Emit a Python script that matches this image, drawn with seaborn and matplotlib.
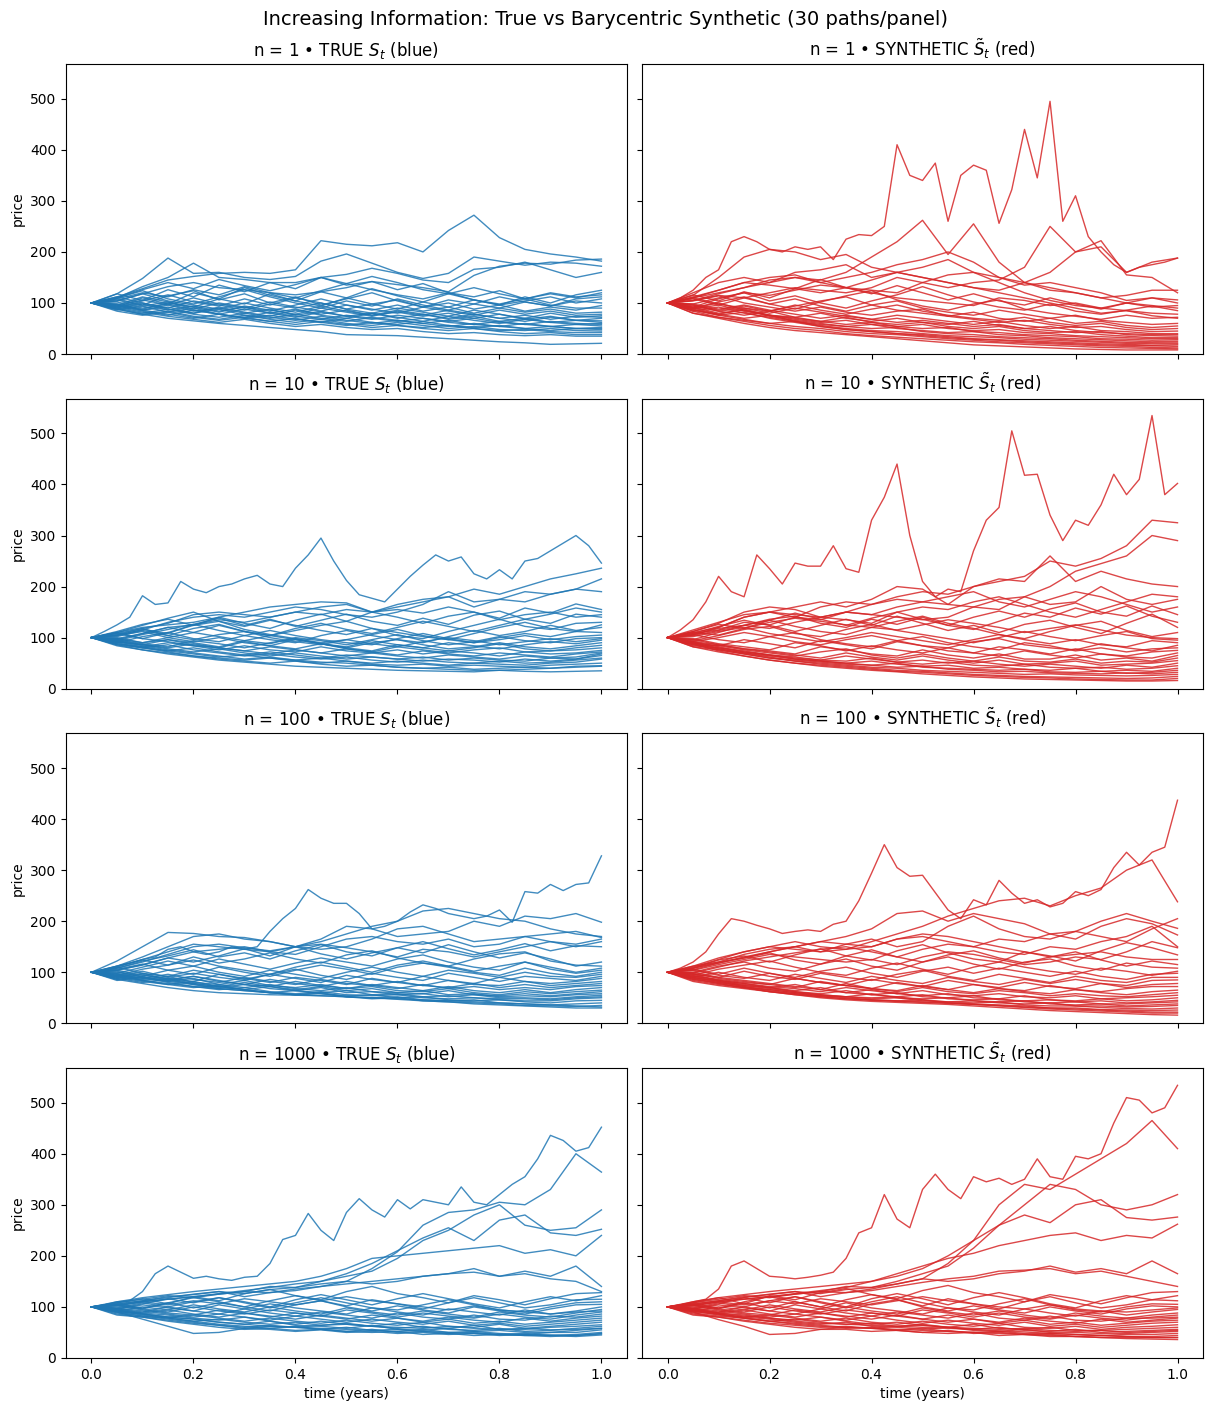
import numpy as np
import pandas as pd
import matplotlib
matplotlib.use("Agg")
import matplotlib.pyplot as plt
import seaborn as sns

# information levels (rows)
N_LEVELS = [1, 10, 100, 1000]

# each path: prices on an even time grid over [0, 1]
# (21 points for ordinary paths, 41 points for the big outliers)

TRUE_N1 = [
    [100,112,128,145,152,158,160,158,165,222,215,212,218,200,242,272,228,205,196,190,182],
    [100,118,148,188,158,160,150,146,152,182,196,178,160,148,158,190,182,174,180,178,172],
    [100,110,132,150,178,150,146,140,140,150,156,168,158,145,140,166,170,180,165,150,160],
    [100,104,118,132,140,130,126,120,116,122,130,142,136,130,122,154,172,178,176,184,186],
    [100,118,105,126,112,135,122,140,128,150,135,142,126,138,120,112,124,108,118,110,120],
    [100,92,110,98,120,108,130,115,104,122,110,128,114,102,118,106,96,112,100,116,125],
    [100,108,96,114,124,106,118,100,112,96,108,120,104,92,106,98,112,102,94,108,112],
    [100,96,112,102,92,108,98,118,104,94,110,98,88,102,92,106,96,104,112,100,108],
    [100,110,124,108,98,112,126,112,100,90,104,94,108,96,86,98,90,102,94,104,100],
    [100,90,104,116,102,94,108,96,110,100,88,98,106,92,100,88,96,84,92,86,95],
    [100,106,94,102,88,100,92,84,96,108,96,86,96,84,92,80,90,82,88,80,82],
    [100,94,106,96,110,98,90,102,92,84,96,88,80,92,84,76,86,78,84,76,78],
    [100,112,100,90,104,96,86,98,90,100,88,80,90,82,74,86,78,70,80,72,75],
    [100,98,88,100,92,82,94,86,78,90,82,74,84,76,86,78,70,76,68,74,72],
    [100,88,98,86,94,84,92,80,88,78,86,76,82,74,80,70,78,68,74,66,70],
    [100,104,118,104,96,88,100,90,82,94,84,76,86,78,70,78,70,64,72,66,65],
    [100,96,86,96,84,90,80,88,76,84,74,80,70,78,68,74,64,70,62,66,62],
    [100,92,100,88,80,92,82,74,86,76,70,80,72,64,74,66,60,68,62,58,60],
    [100,102,90,98,86,78,88,80,72,82,74,68,76,70,64,70,62,58,64,60,58],
    [100,86,94,82,90,78,72,82,74,68,76,70,64,70,62,58,64,58,54,58,55],
    [100,98,86,92,80,88,76,70,78,70,64,72,66,60,66,58,54,60,54,50,52],
    [100,90,80,88,78,72,80,72,66,74,66,60,66,60,54,60,54,50,54,50,50],
    [100,94,84,76,86,78,70,76,68,62,70,62,58,64,56,52,56,50,46,50,48],
    [100,88,78,84,74,68,76,68,62,68,60,56,62,56,50,54,48,46,50,46,45],
    [100,96,86,78,70,78,70,64,70,62,56,62,56,52,56,50,46,48,44,42,42],
    [100,84,76,82,72,66,72,64,58,64,58,52,56,50,46,50,44,40,42,38,38],
    [100,92,82,74,68,62,68,60,54,58,52,48,50,44,40,42,38,36,38,35,35],
    [100,88,78,70,65,60,56,52,48,44,38,37,36,33,30,27,24,22,19,20,21],
    [100,110,126,140,128,146,134,124,136,150,138,152,140,126,118,130,118,108,120,112,116],
    [100,108,120,112,126,116,132,120,110,124,138,126,116,108,120,106,98,108,96,90,90],
]

SYN_N1 = [
    [100,110,125,150,165,220,230,220,205,200,210,205,210,185,225,234,232,250,410,350,
     340,374,260,350,370,360,256,322,440,345,495,260,310,230,200,175,160,170,175,180,188],
    [100,115,150,190,205,200,185,195,170,160,150,140,130,120,110,100,90,80,85,75,70],
    [100,110,120,130,140,150,145,160,190,220,262,195,255,180,140,125,120,110,100,95,90],
    [100,105,115,110,120,130,125,120,130,150,140,130,140,145,170,250,200,222,155,150,120],
    [100,120,140,150,140,160,165,175,150,160,170,185,160,150,140,160,200,210,160,180,188],
    [100,110,125,140,150,155,140,150,160,175,185,200,180,150,135,140,130,120,105,110,106],
    [100,116,104,122,110,128,146,130,118,134,120,106,118,104,96,110,98,88,100,92,95],
    [100,92,108,120,104,114,100,90,104,116,132,116,102,92,86,98,84,78,86,94,85],
    [100,108,96,110,98,88,102,114,124,106,94,86,98,106,88,80,74,68,76,70,72],
    [100,90,102,112,98,108,94,84,96,104,90,82,76,86,78,70,76,66,62,58,60],
    [100,110,98,90,84,94,104,112,96,86,80,74,82,70,64,70,60,64,56,52,55],
    [100,96,86,94,84,96,86,78,88,96,84,76,70,66,72,62,56,60,52,48,50],
    [100,104,114,100,92,84,92,82,76,84,88,74,68,62,66,58,52,54,48,44,45],
    [100,94,84,90,80,90,82,74,68,76,70,64,58,64,56,50,54,46,44,40,40],
    [100,88,96,84,76,72,80,70,64,70,62,58,64,56,50,54,46,42,40,38,38],
    [100,98,88,96,86,78,70,76,68,62,66,60,54,58,50,46,42,44,38,36,35],
    [100,90,100,86,76,70,64,72,62,58,62,54,50,54,46,42,44,38,35,32,32],
    [100,86,78,88,76,68,62,66,58,54,58,50,46,48,42,40,36,34,32,30,30],
    [100,96,84,76,84,72,64,58,62,54,50,52,44,42,38,36,34,30,29,27,28],
    [100,92,80,86,74,66,60,54,58,50,46,42,44,38,36,32,30,28,26,24,25],
    [100,84,92,80,72,64,58,54,50,52,44,40,38,34,32,30,27,25,23,22,22],
    [100,90,78,70,76,64,56,50,46,44,40,36,34,32,29,27,25,23,21,20,20],
    [100,86,76,82,70,62,54,48,44,40,38,34,30,28,26,24,22,20,19,17,18],
    [100,80,72,66,60,64,54,48,44,40,36,32,29,27,24,22,20,18,17,16,15],
    [100,88,76,68,60,54,50,44,40,38,34,30,27,24,22,20,18,16,15,13,12],
    [100,84,72,64,56,50,46,40,36,33,30,27,24,22,19,17,15,13,12,11,10],
    [100,80,70,60,52,46,42,38,34,30,26,22,18,16,14,12,10,9,8,8,8],
    [100,112,125,140,135,128,120,130,145,160,150,140,130,125,140,130,120,110,115,125,125],
    [100,105,118,130,145,150,140,130,125,120,140,155,160,140,120,105,95,90,100,110,100],
    [100,98,110,120,115,125,135,130,120,110,105,100,95,110,105,95,100,90,85,80,78],
]

TRUE_N10 = [
    [100,112,125,140,182,165,168,210,195,188,200,205,215,222,205,200,236,262,295,250,
     212,184,177,170,195,220,242,262,250,258,225,215,233,215,250,255,270,285,300,280,246],
    [100,110,120,125,130,140,150,160,165,170,168,150,160,170,180,195,185,200,215,225,236],
    [100,105,115,130,140,145,140,150,160,155,145,140,150,165,190,170,175,190,185,195,215],
    [100,98,108,120,125,135,130,140,150,145,155,150,165,175,180,160,175,170,185,195,190],
    [100,112,126,136,124,140,128,118,134,146,132,150,140,128,142,150,138,158,148,166,155],
    [100,104,116,108,126,138,124,136,122,134,146,132,124,138,126,144,152,136,146,158,150],
    [100,96,108,120,110,124,112,104,118,128,116,108,120,132,122,112,124,136,128,146,140],
    [100,110,124,138,150,132,122,134,124,114,106,118,104,98,112,124,136,122,116,128,130],
    [100,102,114,104,118,126,112,104,114,124,132,118,110,102,96,108,120,130,118,112,125],
    [100,94,106,116,126,114,104,96,90,104,114,104,96,90,102,114,104,112,124,114,120],
    [100,108,98,110,124,132,116,106,98,90,96,106,116,104,96,90,100,108,102,112,110],
    [100,90,102,110,98,92,104,114,104,96,90,86,98,108,98,90,96,104,96,102,105],
    [100,98,90,100,110,102,94,88,100,94,86,96,106,94,86,92,102,94,90,98,100],
    [100,106,118,104,96,106,112,100,92,86,96,88,82,92,100,94,86,92,98,92,98],
    [100,92,86,96,90,82,94,104,96,88,82,94,86,80,90,84,78,86,92,88,95],
    [100,104,112,100,92,100,90,84,96,88,80,90,96,86,78,82,90,82,78,84,90],
    [100,96,88,82,94,88,80,90,98,88,80,74,86,80,74,80,88,78,74,80,85],
    [100,110,98,92,84,80,92,84,78,88,78,72,82,76,70,76,80,72,74,76,80],
    [100,88,82,90,84,76,84,76,72,82,74,70,76,68,74,70,64,72,68,70,75],
    [100,100,90,96,86,80,74,82,76,70,78,72,66,74,68,64,70,66,62,68,72],
    [100,92,86,80,88,80,74,68,76,70,64,70,64,60,66,62,58,64,60,62,70],
    [100,86,80,74,80,72,66,72,66,60,66,62,58,62,56,60,56,54,60,58,68],
    [100,96,86,78,72,78,70,64,70,64,58,62,58,54,58,56,52,58,54,58,65],
    [100,88,80,86,76,70,64,68,62,58,62,56,52,56,52,50,54,50,52,56,60],
    [100,92,82,74,68,62,66,60,56,60,54,50,54,50,46,50,48,46,50,52,58],
    [100,84,76,70,64,60,56,60,54,50,54,48,46,48,44,46,44,42,46,48,50],
    [100,90,80,72,64,58,54,50,54,48,44,46,42,40,42,38,40,42,40,44,45],
    [100,86,76,68,62,56,52,48,44,42,40,38,36,35,34,33,36,34,33,34,35],
    [100,94,84,76,70,64,58,62,56,52,50,46,42,40,38,36,36,38,40,42,44],
    [100,108,118,128,145,150,145,140,150,160,165,150,155,148,160,150,135,145,150,140,145],
]

SYN_N10 = [
    [100,115,135,170,220,190,180,262,235,205,246,240,240,280,235,228,330,375,440,300,
     210,180,195,190,270,330,355,505,418,420,340,290,330,320,360,420,380,410,535,380,402],
    [100,110,120,140,150,140,160,170,165,180,190,185,200,210,220,250,240,255,280,330,325],
    [100,108,115,130,125,140,135,150,145,160,170,165,160,175,180,200,230,245,260,300,290],
    [100,115,130,145,150,160,170,160,175,200,195,165,200,215,210,260,210,230,215,205,200],
    [100,105,120,140,150,145,140,150,145,140,135,140,160,155,180,165,170,200,175,165,175],
    [100,112,126,118,134,148,136,124,138,150,136,124,140,152,140,156,168,150,142,162,145],
    [100,96,110,124,136,142,128,120,136,126,140,124,116,132,148,140,158,146,162,142,130],
    [100,108,122,134,124,112,124,136,124,142,128,114,124,110,126,134,120,108,128,146,120],
    [100,104,114,124,134,122,112,106,120,132,142,128,118,106,98,112,124,132,114,102,110],
    [100,94,104,116,122,108,102,116,126,114,106,98,90,100,112,102,94,104,112,98,95],
    [100,102,112,120,108,100,92,100,110,102,94,86,96,106,96,88,96,86,82,94,90],
    [100,92,100,110,102,92,86,96,104,94,84,80,92,98,86,80,76,88,80,74,85],
    [100,106,96,90,102,110,96,88,82,94,102,90,82,76,90,84,74,80,72,78,80],
    [100,90,84,96,88,80,94,86,78,92,84,74,70,82,76,68,78,68,64,72,75],
    [100,98,88,82,76,90,84,74,84,76,70,80,70,64,74,66,60,68,62,60,70],
    [100,92,86,78,74,68,82,76,68,64,76,66,60,68,58,58,66,56,60,54,65],
    [100,86,84,76,70,64,72,78,66,60,68,60,54,62,54,52,58,50,54,52,60],
    [100,96,86,78,72,66,60,70,62,56,64,56,50,56,48,50,54,46,48,50,55],
    [100,84,80,72,66,62,56,64,58,52,56,50,54,48,44,48,44,40,46,42,50],
    [100,90,80,74,66,60,56,54,60,52,48,52,46,44,48,42,40,42,38,40,45],
    [100,88,78,70,64,58,54,50,54,48,44,46,40,42,38,36,40,34,36,34,40],
    [100,82,76,68,60,56,52,48,46,50,42,40,38,36,38,33,32,34,30,32,36],
    [100,92,82,72,66,58,54,50,46,42,44,38,36,33,34,31,30,29,31,29,32],
    [100,86,76,68,60,54,50,46,42,40,36,34,32,30,28,29,27,26,25,26,28],
    [100,90,78,70,62,54,48,44,40,36,34,31,28,26,24,23,22,21,20,21,24],
    [100,82,72,64,56,50,46,42,38,34,32,29,26,24,22,21,19,18,17,17,20],
    [100,88,74,64,56,50,44,40,36,33,29,26,23,21,19,18,17,16,15,15,16],
    [100,112,128,150,160,155,140,150,165,175,170,180,190,170,160,175,190,180,165,150,160],
    [100,106,118,124,118,130,140,135,128,150,160,155,170,180,165,150,140,155,170,185,180],
    [100,110,105,118,130,138,132,125,120,115,125,135,128,120,110,118,125,115,105,100,98],
]

TRUE_N100 = [
    [100,105,112,118,125,130,145,150,140,135,140,150,145,150,180,205,225,262,245,235,
     235,215,185,190,200,218,232,225,215,210,205,210,222,198,258,255,272,260,272,275,328],
    [100,110,125,140,155,150,145,140,150,165,190,185,170,175,180,200,190,210,205,215,198],
    [100,108,120,135,150,155,148,142,150,160,175,190,200,220,225,215,205,200,185,175,170],
    [100,112,130,150,170,175,165,160,150,145,150,165,185,190,175,160,165,170,175,180,168],
    [100,104,115,128,140,145,150,140,135,150,165,170,160,155,165,150,155,170,160,150,160],
    [100,108,122,132,144,130,138,126,142,154,140,132,148,160,146,134,144,156,142,152,150],
    [100,104,114,128,120,132,146,132,150,136,126,138,148,138,154,140,128,138,126,112,120],
    [100,112,124,114,130,118,126,138,126,118,134,142,128,118,112,126,136,140,122,114,112],
    [100,98,110,122,112,126,116,106,118,128,120,112,126,134,120,110,104,120,110,100,108],
    [100,94,106,114,124,112,104,96,110,120,110,100,114,122,112,102,112,120,106,98,104],
    [100,106,116,104,96,110,100,92,104,114,106,96,110,118,110,100,94,108,98,92,100],
    [100,100,92,104,112,100,92,104,96,88,100,110,100,92,104,98,90,100,92,90,96],
    [100,110,98,92,104,96,86,96,106,94,86,98,90,84,98,90,82,92,88,84,92],
    [100,92,102,90,98,90,84,96,88,80,94,86,80,92,84,78,90,82,78,82,88],
    [100,104,94,88,82,96,88,80,90,84,76,88,80,74,84,76,74,82,74,78,82],
    [100,96,88,96,86,80,90,82,76,86,78,74,82,74,70,78,70,76,70,74,78],
    [100,90,98,86,92,82,76,86,78,72,82,74,68,76,68,72,66,70,66,72,74],
    [100,102,90,84,92,84,76,72,82,74,68,76,70,64,72,64,60,66,60,66,70],
    [100,94,86,92,80,76,84,74,70,76,68,72,64,62,68,60,56,62,58,62,65],
    [100,88,96,84,78,72,80,72,66,72,64,68,60,58,64,56,54,58,54,58,62],
    [100,98,88,82,88,76,70,76,68,64,70,62,60,64,56,58,52,54,52,56,58],
    [100,86,92,82,76,70,76,68,64,70,60,62,56,58,52,56,50,50,48,52,55],
    [100,92,84,88,78,72,66,72,64,60,64,56,58,52,54,50,48,48,46,50,52],
    [100,84,90,80,72,66,70,62,58,62,56,54,56,50,48,50,46,44,44,48,50],
    [100,96,84,76,82,72,66,60,64,58,54,56,50,52,46,44,46,42,40,44,45],
    [100,88,80,86,76,68,64,60,56,60,52,50,52,46,44,46,40,38,36,38,40],
    [100,90,82,76,70,74,66,60,56,58,52,48,50,44,42,40,38,35,34,33,35],
    [100,92,84,78,72,68,64,60,56,54,52,50,47,44,42,38,36,34,32,30,30],
    [100,86,78,70,64,60,58,56,55,54,52,50,48,46,44,42,40,38,36,34,32],
    [100,122,150,178,176,170,168,160,150,155,148,140,130,145,140,130,140,150,160,155,165],
]

SYN_N100 = [
    [100,108,120,140,175,205,200,192,185,176,180,183,180,194,200,240,294,350,305,288,
     290,256,222,205,242,232,280,255,235,242,228,235,258,250,262,305,335,310,335,345,437],
    [100,110,125,140,150,160,150,145,160,175,190,210,225,240,245,230,250,265,300,320,238],
    [100,105,118,130,140,150,160,170,185,215,220,200,215,205,195,175,180,170,160,185,205],
    [100,112,128,140,150,145,140,155,165,150,160,190,210,185,170,165,180,200,215,200,186],
    [100,108,120,135,145,150,140,145,150,165,170,160,150,165,160,175,165,190,205,195,173],
    [100,98,110,122,130,138,145,150,140,130,145,155,150,140,135,150,145,160,170,190,150],
    [100,108,124,132,120,134,146,132,124,142,154,138,126,120,140,132,122,142,158,148,134],
    [100,112,120,128,138,124,116,132,144,130,120,134,142,128,118,130,140,124,112,122,115],
    [100,100,112,120,108,102,116,126,112,104,120,130,116,106,120,126,112,104,118,110,108],
    [100,94,106,114,122,110,100,94,108,118,106,96,110,120,110,102,96,108,102,94,102],
    [100,106,96,108,98,90,102,110,98,90,102,110,98,108,100,92,102,92,86,96,98],
    [100,96,90,102,92,86,98,90,84,96,104,92,84,96,88,80,92,84,80,90,90],
    [100,90,100,90,84,96,88,80,92,84,78,90,82,76,86,78,86,78,74,84,85],
    [100,104,94,88,98,88,80,74,86,78,72,84,76,70,80,72,68,78,70,76,78],
    [100,98,88,82,76,88,80,74,68,80,72,66,76,68,64,74,66,62,68,72,72],
    [100,92,86,80,76,70,82,74,68,64,74,66,60,68,62,58,66,60,56,62,65],
    [100,100,90,84,78,72,66,78,68,62,70,62,58,64,60,54,58,54,52,56,60],
    [100,88,84,78,72,68,62,70,64,58,64,56,54,58,52,50,54,48,50,52,55],
    [100,94,84,78,70,76,66,60,66,58,54,58,50,48,54,46,44,48,44,46,50],
    [100,86,80,74,70,64,70,60,56,60,52,50,54,46,44,46,42,44,40,42,45],
    [100,92,82,76,70,62,58,64,56,52,56,48,46,48,42,40,42,38,38,40,42],
    [100,84,76,70,66,60,56,52,58,50,48,50,44,42,44,38,36,38,34,36,38],
    [100,90,82,72,66,60,54,52,50,52,46,42,44,40,38,40,34,34,32,33,35],
    [100,96,84,74,68,62,56,52,48,50,44,42,40,42,36,34,34,31,29,28,30],
    [100,86,78,70,62,58,52,48,46,44,46,40,38,36,34,30,30,27,26,25,26],
    [100,90,80,72,64,58,54,50,46,44,42,40,37,35,32,30,28,26,24,22,22],
    [100,82,74,68,62,56,52,48,45,43,41,39,37,34,31,28,26,24,22,20,20],
    [100,88,78,70,62,56,50,46,43,41,39,37,34,31,28,25,23,21,19,17,16],
    [100,108,118,128,140,150,160,155,150,165,175,170,160,150,140,130,135,140,130,125,125],
    [100,104,115,125,135,130,125,120,125,115,130,140,135,125,115,120,130,125,140,160,148],
]

TRUE_N1000 = [
    [100,104,110,112,130,165,180,168,156,160,155,152,158,160,185,232,240,283,250,230,
     285,312,290,276,310,292,310,305,300,335,305,300,320,340,355,390,436,426,405,412,452],
    [100,105,112,118,125,130,120,128,135,140,150,175,208,260,285,290,305,300,330,400,364],
    [100,108,115,122,118,125,130,140,138,150,160,170,195,230,250,280,300,260,250,255,290],
    [100,102,110,115,120,126,132,138,145,150,165,185,210,235,255,230,270,280,245,240,252],
    [100,110,118,124,130,135,140,145,150,160,175,195,200,205,210,215,220,205,212,200,240],
    [100,106,112,120,124,130,126,134,138,145,150,145,150,160,165,175,160,170,160,180,140],
    [100,104,110,115,120,125,130,128,132,140,145,150,155,160,165,168,160,165,155,150,130],
    [100,108,116,106,120,112,126,134,122,114,130,140,126,118,108,122,114,104,116,126,128],
    [100,96,106,116,108,118,110,100,114,124,114,104,116,126,116,106,98,110,120,112,122],
    [100,104,96,108,118,110,100,112,122,112,102,114,106,96,108,118,108,98,104,114,115],
    [100,98,108,100,110,118,108,98,108,118,108,98,94,104,114,104,94,90,100,108,110],
    [100,106,98,108,98,108,100,92,104,112,100,92,102,94,88,100,92,86,96,104,105],
    [100,96,104,98,92,104,96,106,98,92,86,98,90,84,96,90,84,94,86,92,100],
    [100,92,100,94,104,96,90,100,92,86,98,90,84,92,86,80,90,84,80,88,95],
    [100,104,96,90,100,92,86,94,88,82,94,88,80,88,82,78,86,80,76,84,90],
    [100,96,90,100,92,86,96,88,82,90,84,78,88,80,76,84,76,74,82,80,86],
    [100,102,94,88,84,94,88,80,88,82,76,84,78,72,80,74,70,78,72,78,82],
    [100,92,88,94,86,80,88,82,76,84,78,72,78,70,76,68,72,66,70,74,78],
    [100,98,92,86,80,86,80,74,82,76,70,76,70,66,72,64,68,62,66,70,74],
    [100,90,86,80,84,78,72,78,72,68,74,68,64,70,62,60,66,58,62,66,70],
    [100,96,88,84,78,74,80,72,66,72,66,62,68,60,58,64,56,56,60,62,65],
    [100,88,82,78,72,76,70,66,70,64,68,62,58,62,56,54,58,52,54,58,62],
    [100,94,86,80,76,70,66,72,64,62,58,64,56,54,58,52,54,50,50,54,58],
    [100,86,80,74,68,64,60,64,60,56,60,54,52,56,50,52,48,46,50,50,55],
    [100,92,84,78,72,66,62,58,62,56,52,56,50,52,48,50,46,48,44,46,50],
    [100,84,80,72,66,60,56,58,54,56,52,50,52,46,48,44,46,44,42,44,47],
    [100,90,82,76,70,64,58,56,52,55,50,52,48,50,46,48,44,46,44,42,45],
    [100,90,76,62,48,50,58,62,60,64,66,62,60,58,62,58,56,58,55,56,58],
    [100,94,86,80,76,70,66,62,60,58,56,54,56,52,50,48,46,44,45,44,48],
    [100,102,110,104,112,106,116,110,104,112,120,112,106,100,94,102,94,90,86,90,92],
]

SYN_N1000 = [
    [100,104,110,115,135,180,190,175,160,158,155,158,162,168,195,245,255,320,272,255,
     330,360,330,312,355,345,352,340,350,390,355,350,395,390,400,460,510,505,480,490,534],
    [100,105,112,118,125,130,120,128,135,145,155,185,230,300,340,330,360,390,420,465,410],
    [100,108,115,122,118,125,130,140,138,150,165,180,215,260,300,340,330,300,290,300,320],
    [100,102,110,115,120,126,132,138,150,160,175,200,230,260,280,265,300,310,275,270,276],
    [100,110,118,124,130,135,140,145,150,165,180,195,205,220,230,240,245,230,240,235,262],
    [100,106,112,120,124,130,126,134,138,145,155,150,155,165,170,180,168,175,165,190,165],
    [100,104,110,115,120,125,130,128,132,140,148,155,160,170,172,175,165,170,160,150,140],
    [100,108,118,106,122,114,128,136,124,116,132,142,128,120,110,124,116,106,118,128,130],
    [100,96,106,118,108,120,110,100,116,126,116,104,118,128,118,106,98,112,122,114,122],
    [100,104,96,110,120,110,100,114,124,114,102,116,106,96,110,120,108,98,104,114,112],
    [100,98,108,100,112,120,108,98,110,120,108,98,94,106,116,104,94,90,100,106,105],
    [100,106,98,108,98,110,100,92,106,114,100,92,102,94,88,100,92,86,96,102,100],
    [100,96,104,98,92,104,96,108,98,92,86,98,90,84,96,88,82,92,84,90,95],
    [100,92,100,94,104,96,90,100,92,86,98,90,84,92,84,78,88,82,78,84,88],
    [100,104,96,90,100,92,86,94,88,82,94,88,80,88,80,76,84,78,74,80,84],
    [100,96,90,100,92,86,96,88,82,90,84,78,88,78,74,82,74,72,78,78,80],
    [100,102,94,88,84,94,88,80,88,82,76,84,76,70,78,72,68,76,70,74,78],
    [100,92,88,94,86,80,88,82,76,84,76,70,76,68,74,66,70,64,68,72,74],
    [100,98,92,86,80,86,80,74,82,74,68,74,68,64,70,62,66,60,64,68,70],
    [100,90,86,80,84,78,72,78,70,66,72,66,62,68,60,58,62,56,60,62,65],
    [100,96,88,84,78,74,80,72,66,70,64,60,66,58,56,60,54,54,56,58,60],
    [100,88,82,78,72,76,70,66,68,62,66,60,56,60,54,52,56,50,52,54,56],
    [100,94,86,80,76,70,66,70,62,60,56,60,54,52,56,50,50,48,48,50,52],
    [100,86,80,74,68,64,60,62,58,54,58,52,50,52,48,48,46,44,46,46,48],
    [100,92,84,78,72,66,62,58,60,54,50,54,48,50,46,46,42,44,42,42,44],
    [100,84,80,72,66,60,56,56,52,54,50,48,50,44,46,42,42,40,40,40,40],
    [100,90,75,62,46,48,56,60,58,62,64,60,58,56,58,54,52,54,50,52,54],
    [100,94,86,78,72,68,64,60,58,56,54,52,50,48,46,44,42,40,38,37,36],
    [100,96,88,82,78,72,68,66,64,62,60,58,56,53,51,48,46,44,42,40,40],
    [100,102,110,104,112,106,116,110,104,112,120,112,106,100,96,104,96,92,90,94,98],
]

TRUE_PANELS = [TRUE_N1, TRUE_N10, TRUE_N100, TRUE_N1000]
SYN_PANELS = [SYN_N1, SYN_N10, SYN_N100, SYN_N1000]


def to_frame(paths):
    rows = []
    for k, p in enumerate(paths):
        t = np.linspace(0, 1, len(p))
        rows += [(k, ti, v) for ti, v in zip(t, p)]
    return pd.DataFrame(rows, columns=["path", "t", "price"])


fig, axes = plt.subplots(4, 2, figsize=(12.11, 14.11), dpi=100, sharex=True, sharey=True)

for i, n in enumerate(N_LEVELS):
    panels = [
        (TRUE_PANELS[i], "tab:blue", f"n = {n} • TRUE $S_t$ (blue)"),
        (SYN_PANELS[i], "tab:red", f"n = {n} • SYNTHETIC $\\tilde{{S}}_t$ (red)"),
    ]
    for j, (paths, color, title) in enumerate(panels):
        ax = axes[i, j]
        sns.lineplot(data=to_frame(paths), x="t", y="price", units="path",
                     estimator=None, color=color, lw=1, alpha=0.85,
                     legend=False, ax=ax)
        ax.set_title(title, fontsize=12)
        ax.set_xlabel("time (years)" if i == 3 else "")
        ax.set_ylabel("price" if j == 0 else "")

axes[0, 0].set_xlim(-0.05, 1.05)
axes[0, 0].set_ylim(0, 568)

fig.suptitle("Increasing Information: True vs Barycentric Synthetic (30 paths/panel)",
             fontsize=14, y=0.993)
fig.subplots_adjust(left=0.0545, right=0.9934, top=0.9546, bottom=0.0376,
                    wspace=0.027, hspace=0.154)
fig.savefig("out.png", dpi=100)
